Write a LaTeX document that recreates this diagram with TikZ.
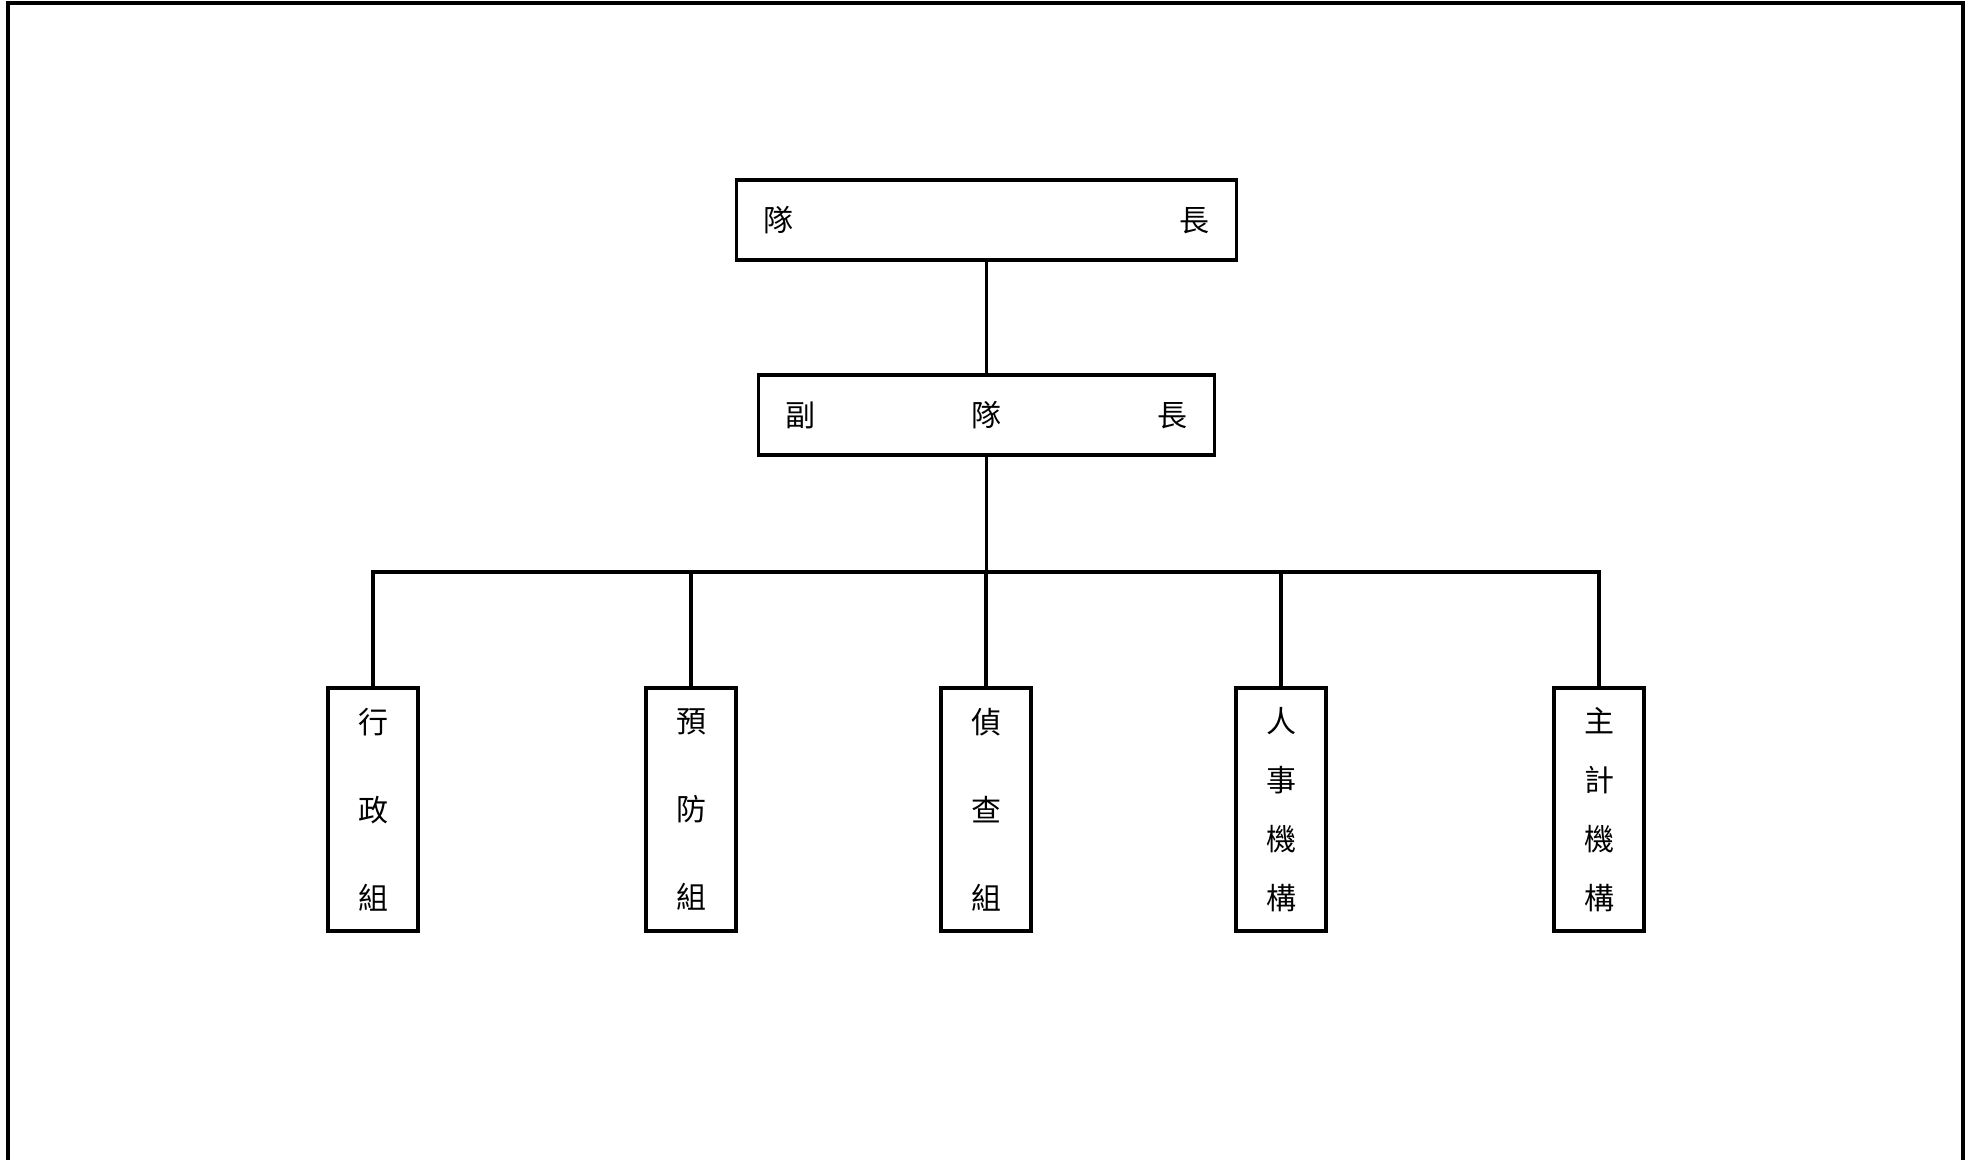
\documentclass[tikz,border=0pt]{standalone}
\usepackage{fontspec}
\setmainfont{Noto Sans CJK TC}
\usetikzlibrary{positioning}

\begin{document}
\begin{tikzpicture}[x=0.5pt, y=-0.5pt, line width=1.7pt, outer sep=0,
        headbox/.style={draw, rectangle, minimum height=40pt, inner xsep=13.5pt, align=center, font=\fontsize{15}{18}\selectfont},
        groupbox/.style={draw, rectangle, minimum height=121.5pt, minimum width=45pt, inner sep=0pt, align=center}]
        \useasboundingbox (0,0) rectangle (1971,1160);
        % page frame
        \draw (8,1160) -- (8,3) -- (1963,3) -- (1963,1160);
        % heads
        \node [headbox, text width=223pt] (chief) at (986.5,220) {隊\hfill 長};
        \node [headbox, text width=201pt, below = 57.5pt of chief] (deputy) {副\hfill 隊\hfill 長};
        \draw (chief) -- (deputy);
        % groups
        \node [groupbox, font=\fontsize{15}{44}\selectfont] (g1) at (373,809.5) {行\\政\\組};
        \node [groupbox, font=\fontsize{15}{44}\selectfont, right = 114pt of g1] (g2) {預\\防\\組};
        \node [groupbox, font=\fontsize{15}{44}\selectfont, right = 102.5pt of g2] (g3) {偵\\查\\組};
        \node [groupbox, font=\fontsize{15}{29.5}\selectfont, right = 102.5pt of g3] (g4) {人\\事\\機\\構};
        \node [groupbox, font=\fontsize{15}{29.5}\selectfont, right = 114pt of g4] (g5) {主\\計\\機\\構};
        % bus
        \coordinate (bus) at (986.5,572);
        \draw (deputy) -- (bus);
        \draw (g1) |- (bus) -| (g5);
        \foreach \g in {g2,g3,g4}
            \draw (\g |- bus) -- (\g);
\end{tikzpicture}
\end{document}
